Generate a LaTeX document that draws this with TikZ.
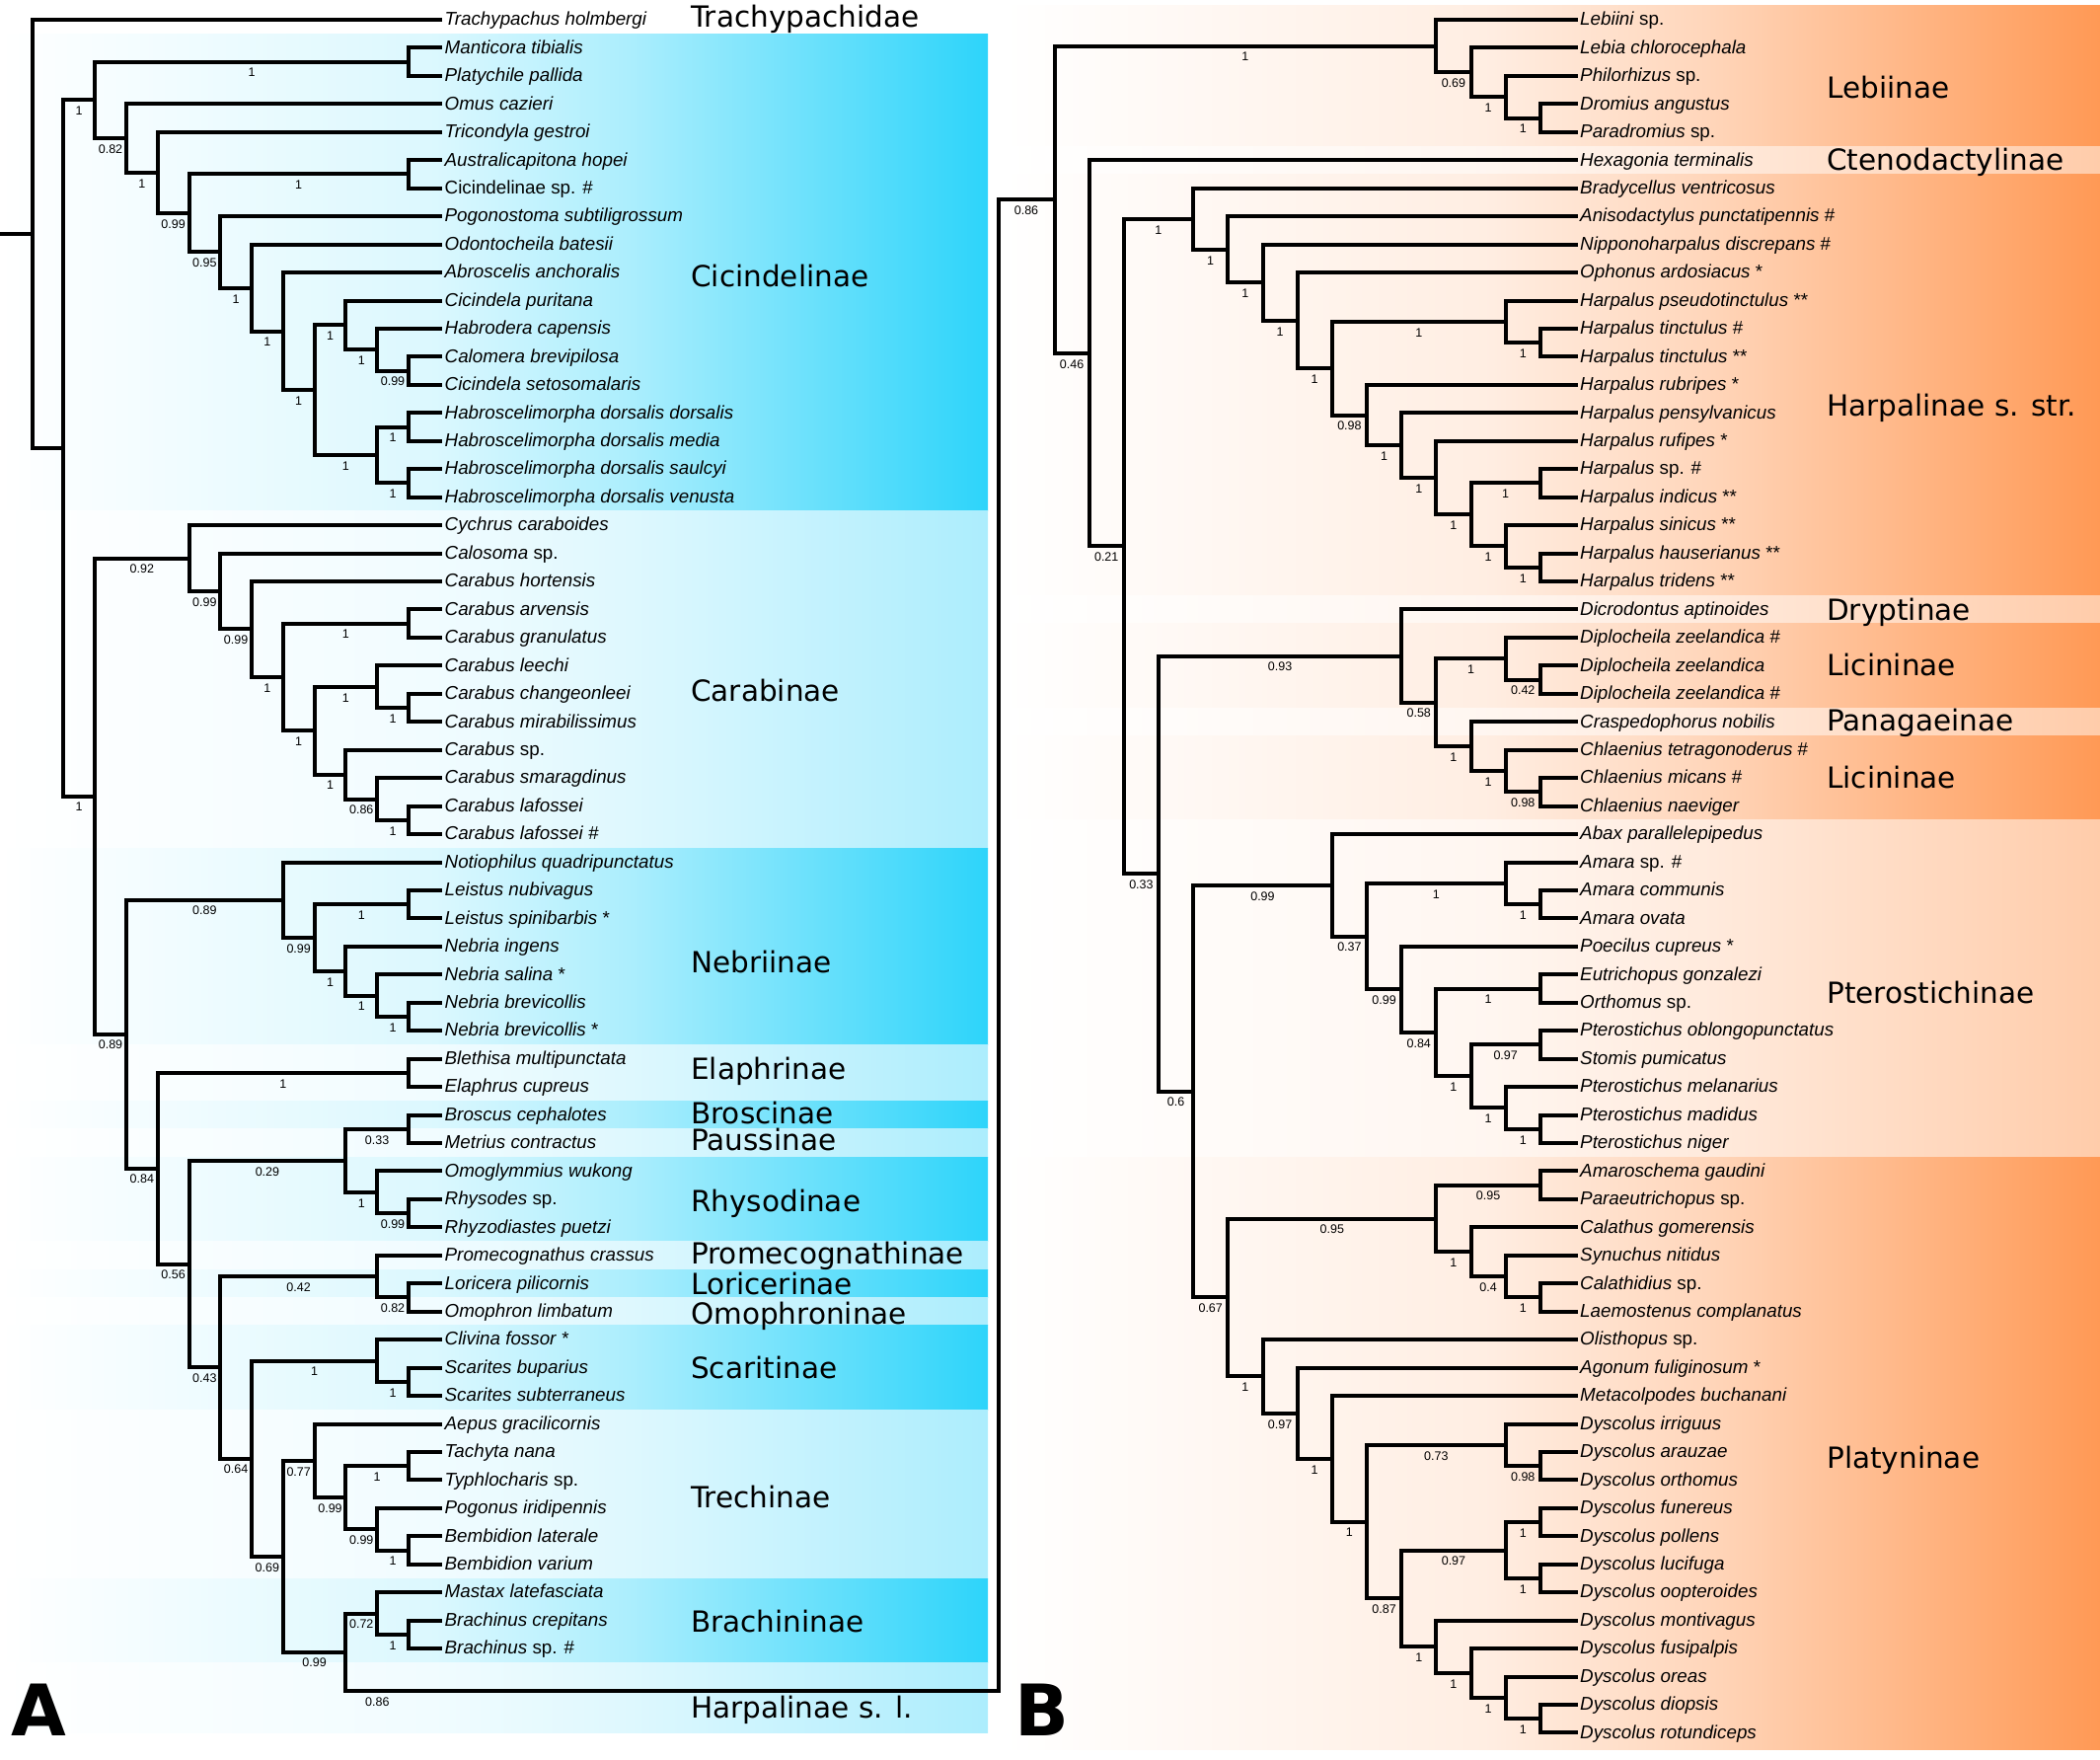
\documentclass[tikz,border=0pt]{standalone}
\usepackage{fontspec}
\setmainfont{Liberation Sans}
\newfontfamily\cladefont{DejaVu Sans}
\usepackage{tikz}
\usetikzlibrary{calc}

\newcommand{\leaffont}{\fontsize{18.8}{20}\selectfont}
\newcommand{\suppfont}{\fontsize{12.5}{13}\selectfont}

\definecolor{cicstrong}{RGB}{45,212,250}
\definecolor{ciclight}{RGB}{172,237,253}
\definecolor{orgstrong}{RGB}{255,153,85}
\definecolor{orglight}{RGB}{255,204,170}

% band shadings (white on the left, full colour on the right)
\pgfdeclarehorizontalshading{cicstrongband}{100bp}{color(0bp)=(white); color(25bp)=(white); color(47bp)=(cicstrong!17!white); color(57bp)=(cicstrong!40!white); color(66.5bp)=(cicstrong!72!white); color(75bp)=(cicstrong); color(100bp)=(cicstrong)}
\pgfdeclarehorizontalshading{ciclightband}{100bp}{color(0bp)=(white); color(25bp)=(white); color(47bp)=(ciclight!17!white); color(57bp)=(ciclight!40!white); color(66.5bp)=(ciclight!72!white); color(75bp)=(ciclight); color(100bp)=(ciclight)}
\pgfdeclarehorizontalshading{orgstrongband}{100bp}{color(0bp)=(white); color(25bp)=(white); color(47bp)=(orgstrong!17!white); color(57bp)=(orgstrong!40!white); color(66.5bp)=(orgstrong!72!white); color(75bp)=(orgstrong); color(100bp)=(orgstrong)}
\pgfdeclarehorizontalshading{orglightband}{100bp}{color(0bp)=(white); color(25bp)=(white); color(47bp)=(orglight!17!white); color(57bp)=(orglight!40!white); color(66.5bp)=(orglight!72!white); color(75bp)=(orglight); color(100bp)=(orglight)}

\begin{document}
\begin{tikzpicture}[x=1pt, y=-28.45pt]
    % Define styles
    \tikzstyle{branch} = [draw, line width=4pt]
    \tikzstyle{leaf} = [anchor=west, inner sep=2.5pt, font=\leaffont, text height=13.5pt, text depth=2pt]
    \tikzstyle{supp} = [font=\suppfont, inner sep=0pt, yshift=-11pt]
    \tikzstyle{clade} = [anchor=base west, inner sep=0pt, font=\cladefont\fontsize{29.5}{30}\selectfont]
    \tikzstyle{panel} = [anchor=base west, inner sep=0pt, font=\cladefont\bfseries\fontsize{72}{72}\selectfont]

    \useasboundingbox (0,-0.703) rectangle (2128,61.934);

    % Bands of panel A
    \shade[shading=cicstrongband] (0,0.5) rectangle (1001,17.5);
    \shade[shading=ciclightband] (0,17.5) rectangle (1001,29.5);
    \shade[shading=cicstrongband] (0,29.5) rectangle (1001,36.5);
    \shade[shading=ciclightband] (0,36.5) rectangle (1001,38.5);
    \shade[shading=cicstrongband] (0,38.5) rectangle (1001,39.5);
    \shade[shading=ciclightband] (0,39.5) rectangle (1001,40.5);
    \shade[shading=cicstrongband] (0,40.5) rectangle (1001,43.5);
    \shade[shading=ciclightband] (0,43.5) rectangle (1001,44.5);
    \shade[shading=cicstrongband] (0,44.5) rectangle (1001,45.5);
    \shade[shading=ciclightband] (0,45.5) rectangle (1001,46.5);
    \shade[shading=cicstrongband] (0,46.5) rectangle (1001,49.5);
    \shade[shading=ciclightband] (0,49.5) rectangle (1001,55.5);
    \shade[shading=cicstrongband] (0,55.5) rectangle (1001,58.5);
    \shade[shading=ciclightband] (0,58.5) rectangle (1001,61.0);

    % Bands of panel B
    \shade[shading=orgstrongband] (1016,-0.5) rectangle (2128,4.5);
    \shade[shading=orglightband] (1016,4.5) rectangle (2128,5.5);
    \shade[shading=orgstrongband] (1016,5.5) rectangle (2128,20.5);
    \shade[shading=orglightband] (1016,20.5) rectangle (2128,21.5);
    \shade[shading=orgstrongband] (1016,21.5) rectangle (2128,24.5);
    \shade[shading=orglightband] (1016,24.5) rectangle (2128,25.5);
    \shade[shading=orgstrongband] (1016,25.5) rectangle (2128,28.5);
    \shade[shading=orglightband] (1016,28.5) rectangle (2128,40.5);
    \shade[shading=orgstrongband] (1016,40.5) rectangle (2128,61.6);

    % Leaves of panel A
    \node[leaf] (a0) at (448,0) {\textit{Trachypachus holmbergi}};
    \node[leaf] (a1) at (448,1) {\textit{Manticora tibialis}};
    \node[leaf] (a2) at (448,2) {\textit{Platychile pallida}};
    \node[leaf] (a3) at (448,3) {\textit{Omus cazieri}};
    \node[leaf] (a4) at (448,4) {\textit{Tricondyla gestroi}};
    \node[leaf] (a5) at (448,5) {\textit{Australicapitona hopei}};
    \node[leaf] (a6) at (448,6) {Cicindelinae sp. \#};
    \node[leaf] (a7) at (448,7) {\textit{Pogonostoma subtiligrossum}};
    \node[leaf] (a8) at (448,8) {\textit{Odontocheila batesii}};
    \node[leaf] (a9) at (448,9) {\textit{Abroscelis anchoralis}};
    \node[leaf] (a10) at (448,10) {\textit{Cicindela puritana}};
    \node[leaf] (a11) at (448,11) {\textit{Habrodera capensis}};
    \node[leaf] (a12) at (448,12) {\textit{Calomera brevipilosa}};
    \node[leaf] (a13) at (448,13) {\textit{Cicindela setosomalaris}};
    \node[leaf] (a14) at (448,14) {\textit{Habroscelimorpha dorsalis dorsalis}};
    \node[leaf] (a15) at (448,15) {\textit{Habroscelimorpha dorsalis media}};
    \node[leaf] (a16) at (448,16) {\textit{Habroscelimorpha dorsalis saulcyi}};
    \node[leaf] (a17) at (448,17) {\textit{Habroscelimorpha dorsalis venusta}};
    \node[leaf] (a18) at (448,18) {\textit{Cychrus caraboides}};
    \node[leaf] (a19) at (448,19) {\textit{Calosoma} sp.};
    \node[leaf] (a20) at (448,20) {\textit{Carabus hortensis}};
    \node[leaf] (a21) at (448,21) {\textit{Carabus arvensis}};
    \node[leaf] (a22) at (448,22) {\textit{Carabus granulatus}};
    \node[leaf] (a23) at (448,23) {\textit{Carabus leechi}};
    \node[leaf] (a24) at (448,24) {\textit{Carabus changeonleei}};
    \node[leaf] (a25) at (448,25) {\textit{Carabus mirabilissimus}};
    \node[leaf] (a26) at (448,26) {\textit{Carabus} sp.};
    \node[leaf] (a27) at (448,27) {\textit{Carabus smaragdinus}};
    \node[leaf] (a28) at (448,28) {\textit{Carabus lafossei}};
    \node[leaf] (a29) at (448,29) {\textit{Carabus lafossei} \#};
    \node[leaf] (a30) at (448,30) {\textit{Notiophilus quadripunctatus}};
    \node[leaf] (a31) at (448,31) {\textit{Leistus nubivagus}};
    \node[leaf] (a32) at (448,32) {\textit{Leistus spinibarbis} *};
    \node[leaf] (a33) at (448,33) {\textit{Nebria ingens}};
    \node[leaf] (a34) at (448,34) {\textit{Nebria salina} *};
    \node[leaf] (a35) at (448,35) {\textit{Nebria brevicollis}};
    \node[leaf] (a36) at (448,36) {\textit{Nebria brevicollis} *};
    \node[leaf] (a37) at (448,37) {\textit{Blethisa multipunctata}};
    \node[leaf] (a38) at (448,38) {\textit{Elaphrus cupreus}};
    \node[leaf] (a39) at (448,39) {\textit{Broscus cephalotes}};
    \node[leaf] (a40) at (448,40) {\textit{Metrius contractus}};
    \node[leaf] (a41) at (448,41) {\textit{Omoglymmius wukong}};
    \node[leaf] (a42) at (448,42) {\textit{Rhysodes} sp.};
    \node[leaf] (a43) at (448,43) {\textit{Rhyzodiastes puetzi}};
    \node[leaf] (a44) at (448,44) {\textit{Promecognathus crassus}};
    \node[leaf] (a45) at (448,45) {\textit{Loricera pilicornis}};
    \node[leaf] (a46) at (448,46) {\textit{Omophron limbatum}};
    \node[leaf] (a47) at (448,47) {\textit{Clivina fossor} *};
    \node[leaf] (a48) at (448,48) {\textit{Scarites buparius}};
    \node[leaf] (a49) at (448,49) {\textit{Scarites subterraneus}};
    \node[leaf] (a50) at (448,50) {\textit{Aepus gracilicornis}};
    \node[leaf] (a51) at (448,51) {\textit{Tachyta nana}};
    \node[leaf] (a52) at (448,52) {\textit{Typhlocharis} sp.};
    \node[leaf] (a53) at (448,53) {\textit{Pogonus iridipennis}};
    \node[leaf] (a54) at (448,54) {\textit{Bembidion laterale}};
    \node[leaf] (a55) at (448,55) {\textit{Bembidion varium}};
    \node[leaf] (a56) at (448,56) {\textit{Mastax latefasciata}};
    \node[leaf] (a57) at (448,57) {\textit{Brachinus crepitans}};
    \node[leaf] (a58) at (448,58) {\textit{Brachinus} sp. \#};

    % Leaves of panel B
    \node[leaf] (b0) at (1598.5,0) {\textit{Lebiini} sp.};
    \node[leaf] (b1) at (1598.5,1) {\textit{Lebia chlorocephala}};
    \node[leaf] (b2) at (1598.5,2) {\textit{Philorhizus} sp.};
    \node[leaf] (b3) at (1598.5,3) {\textit{Dromius angustus}};
    \node[leaf] (b4) at (1598.5,4) {\textit{Paradromius} sp.};
    \node[leaf] (b5) at (1598.5,5) {\textit{Hexagonia terminalis}};
    \node[leaf] (b6) at (1598.5,6) {\textit{Bradycellus ventricosus}};
    \node[leaf] (b7) at (1598.5,7) {\textit{Anisodactylus punctatipennis} \#};
    \node[leaf] (b8) at (1598.5,8) {\textit{Nipponoharpalus discrepans} \#};
    \node[leaf] (b9) at (1598.5,9) {\textit{Ophonus ardosiacus} *};
    \node[leaf] (b10) at (1598.5,10) {\textit{Harpalus pseudotinctulus} **};
    \node[leaf] (b11) at (1598.5,11) {\textit{Harpalus tinctulus} \#};
    \node[leaf] (b12) at (1598.5,12) {\textit{Harpalus tinctulus} **};
    \node[leaf] (b13) at (1598.5,13) {\textit{Harpalus rubripes} *};
    \node[leaf] (b14) at (1598.5,14) {\textit{Harpalus pensylvanicus}};
    \node[leaf] (b15) at (1598.5,15) {\textit{Harpalus rufipes} *};
    \node[leaf] (b16) at (1598.5,16) {\textit{Harpalus} sp. \#};
    \node[leaf] (b17) at (1598.5,17) {\textit{Harpalus indicus} **};
    \node[leaf] (b18) at (1598.5,18) {\textit{Harpalus sinicus} **};
    \node[leaf] (b19) at (1598.5,19) {\textit{Harpalus hauserianus} **};
    \node[leaf] (b20) at (1598.5,20) {\textit{Harpalus tridens} **};
    \node[leaf] (b21) at (1598.5,21) {\textit{Dicrodontus aptinoides}};
    \node[leaf] (b22) at (1598.5,22) {\textit{Diplocheila zeelandica} \#};
    \node[leaf] (b23) at (1598.5,23) {\textit{Diplocheila zeelandica}};
    \node[leaf] (b24) at (1598.5,24) {\textit{Diplocheila zeelandica} \#};
    \node[leaf] (b25) at (1598.5,25) {\textit{Craspedophorus nobilis}};
    \node[leaf] (b26) at (1598.5,26) {\textit{Chlaenius tetragonoderus} \#};
    \node[leaf] (b27) at (1598.5,27) {\textit{Chlaenius micans} \#};
    \node[leaf] (b28) at (1598.5,28) {\textit{Chlaenius naeviger}};
    \node[leaf] (b29) at (1598.5,29) {\textit{Abax parallelepipedus}};
    \node[leaf] (b30) at (1598.5,30) {\textit{Amara} sp. \#};
    \node[leaf] (b31) at (1598.5,31) {\textit{Amara communis}};
    \node[leaf] (b32) at (1598.5,32) {\textit{Amara ovata}};
    \node[leaf] (b33) at (1598.5,33) {\textit{Poecilus cupreus} *};
    \node[leaf] (b34) at (1598.5,34) {\textit{Eutrichopus gonzalezi}};
    \node[leaf] (b35) at (1598.5,35) {\textit{Orthomus} sp.};
    \node[leaf] (b36) at (1598.5,36) {\textit{Pterostichus oblongopunctatus}};
    \node[leaf] (b37) at (1598.5,37) {\textit{Stomis pumicatus}};
    \node[leaf] (b38) at (1598.5,38) {\textit{Pterostichus melanarius}};
    \node[leaf] (b39) at (1598.5,39) {\textit{Pterostichus madidus}};
    \node[leaf] (b40) at (1598.5,40) {\textit{Pterostichus niger}};
    \node[leaf] (b41) at (1598.5,41) {\textit{Amaroschema gaudini}};
    \node[leaf] (b42) at (1598.5,42) {\textit{Paraeutrichopus} sp.};
    \node[leaf] (b43) at (1598.5,43) {\textit{Calathus gomerensis}};
    \node[leaf] (b44) at (1598.5,44) {\textit{Synuchus nitidus}};
    \node[leaf] (b45) at (1598.5,45) {\textit{Calathidius} sp.};
    \node[leaf] (b46) at (1598.5,46) {\textit{Laemostenus complanatus}};
    \node[leaf] (b47) at (1598.5,47) {\textit{Olisthopus} sp.};
    \node[leaf] (b48) at (1598.5,48) {\textit{Agonum fuliginosum} *};
    \node[leaf] (b49) at (1598.5,49) {\textit{Metacolpodes buchanani}};
    \node[leaf] (b50) at (1598.5,50) {\textit{Dyscolus irriguus}};
    \node[leaf] (b51) at (1598.5,51) {\textit{Dyscolus arauzae}};
    \node[leaf] (b52) at (1598.5,52) {\textit{Dyscolus orthomus}};
    \node[leaf] (b53) at (1598.5,53) {\textit{Dyscolus funereus}};
    \node[leaf] (b54) at (1598.5,54) {\textit{Dyscolus pollens}};
    \node[leaf] (b55) at (1598.5,55) {\textit{Dyscolus lucifuga}};
    \node[leaf] (b56) at (1598.5,56) {\textit{Dyscolus oopteroides}};
    \node[leaf] (b57) at (1598.5,57) {\textit{Dyscolus montivagus}};
    \node[leaf] (b58) at (1598.5,58) {\textit{Dyscolus fusipalpis}};
    \node[leaf] (b59) at (1598.5,59) {\textit{Dyscolus oreas}};
    \node[leaf] (b60) at (1598.5,60) {\textit{Dyscolus diopsis}};
    \node[leaf] (b61) at (1598.5,61) {\textit{Dyscolus rotundiceps}};

    % Internal nodes of panel A
    \coordinate (aS) at (0,7.63);
    \coordinate (aR) at (32.6,7.63);
    \coordinate (aN) at (64.3,15.26);
    \coordinate (aCic) at (96.1,2.86);
    \coordinate (aMP) at (413.9,1.5);
    \coordinate (aC10) at (127.9,4.22);
    \coordinate (aC9) at (159.7,5.44);
    \coordinate (aC8) at (191.5,6.89);
    \coordinate (aAC) at (413.9,5.5);
    \coordinate (aC7) at (223.2,8.27);
    \coordinate (aC6) at (255.0,9.55);
    \coordinate (aC5) at (286.8,11.09);
    \coordinate (aC4) at (318.6,13.19);
    \coordinate (aC3) at (350.4,10.875);
    \coordinate (aC2) at (382.1,11.75);
    \coordinate (aCal) at (413.9,12.5);
    \coordinate (aHab) at (382.1,15.5);
    \coordinate (aH1) at (413.9,14.5);
    \coordinate (aH2) at (413.9,16.5);
    \coordinate (aK) at (96.1,27.65);
    \coordinate (aCar) at (191.5,19.18);
    \coordinate (aK7) at (223.2,20.35);
    \coordinate (aK6) at (255.0,21.70);
    \coordinate (aK5) at (286.8,23.41);
    \coordinate (aAG) at (413.9,21.5);
    \coordinate (aK4) at (318.6,25.31);
    \coordinate (aK2a) at (382.1,23.75);
    \coordinate (aCM) at (413.9,24.5);
    \coordinate (aK3) at (350.4,26.875);
    \coordinate (aK2b) at (382.1,27.75);
    \coordinate (aLF) at (413.9,28.5);
    \coordinate (aNE) at (127.9,36.12);
    \coordinate (aNeb) at (286.8,31.34);
    \coordinate (aN4) at (318.6,32.69);
    \coordinate (aLe) at (413.9,31.5);
    \coordinate (aN3) at (350.4,33.875);
    \coordinate (aN2) at (382.1,34.75);
    \coordinate (aNb) at (413.9,35.5);
    \coordinate (aE9) at (159.7,40.90);
    \coordinate (aEl) at (413.9,37.5);
    \coordinate (aE8) at (191.5,44.31);
    \coordinate (aBR) at (350.4,40.625);
    \coordinate (aBM) at (413.9,39.5);
    \coordinate (aRh) at (382.1,41.75);
    \coordinate (aRp) at (413.9,42.5);
    \coordinate (aE7) at (223.2,47.99);
    \coordinate (aPL) at (382.1,44.75);
    \coordinate (aLO) at (413.9,45.5);
    \coordinate (aE6) at (255.0,51.23);
    \coordinate (aSc) at (382.1,47.75);
    \coordinate (aSS) at (413.9,48.5);
    \coordinate (aE5) at (286.8,54.72);
    \coordinate (aTr) at (318.6,51.31);
    \coordinate (aT3) at (350.4,52.625);
    \coordinate (aTT) at (413.9,51.5);
    \coordinate (aT2) at (382.1,53.75);
    \coordinate (aBB) at (413.9,54.5);
    \coordinate (aE3) at (350.4,58.125);
    \coordinate (aBra) at (382.1,56.75);
    \coordinate (aBc) at (413.9,57.5);
    \coordinate (aHsl) at (1011.5,59.5);

    % Internal nodes of panel B
    \coordinate (bR) at (1068.5,6.41);
    \coordinate (bLeb) at (1455.3,0.9375);
    \coordinate (bL3) at (1490.5,1.875);
    \coordinate (bL2) at (1525.7,2.75);
    \coordinate (bDP) at (1560.8,3.5);
    \coordinate (bX) at (1103.6,11.875);
    \coordinate (bY) at (1138.8,18.75);
    \coordinate (bHs) at (1209.1,7.09);
    \coordinate (bH10) at (1244.3,8.18);
    \coordinate (bH9) at (1279.5,9.35);
    \coordinate (bH8) at (1314.6,10.71);
    \coordinate (bH7) at (1349.8,12.41);
    \coordinate (bPT) at (1525.7,10.75);
    \coordinate (bTT) at (1560.8,11.5);
    \coordinate (bH6) at (1385.0,14.08);
    \coordinate (bH5) at (1420.2,15.16);
    \coordinate (bH4) at (1455.3,16.31);
    \coordinate (bH3) at (1490.5,17.625);
    \coordinate (bSI) at (1560.8,16.5);
    \coordinate (bH2) at (1525.7,18.75);
    \coordinate (bHT) at (1560.8,19.5);
    \coordinate (bZ) at (1174.0,30.41);
    \coordinate (bDL) at (1420.2,22.66);
    \coordinate (bD4) at (1455.3,24.31);
    \coordinate (bDz) at (1525.7,22.75);
    \coordinate (bDZ1) at (1560.8,23.5);
    \coordinate (bD3) at (1490.5,25.875);
    \coordinate (bCh) at (1525.7,26.75);
    \coordinate (bCm) at (1560.8,27.5);
    \coordinate (bP) at (1209.1,38.16);
    \coordinate (bPt) at (1349.8,30.82);
    \coordinate (bP6) at (1385.0,32.64);
    \coordinate (bAm) at (1525.7,30.75);
    \coordinate (bAo) at (1560.8,31.5);
    \coordinate (bP5) at (1420.2,34.53);
    \coordinate (bP4) at (1455.3,36.06);
    \coordinate (bEO) at (1560.8,34.5);
    \coordinate (bP3) at (1490.5,37.625);
    \coordinate (bPS) at (1560.8,36.5);
    \coordinate (bP2) at (1525.7,38.75);
    \coordinate (bPm) at (1560.8,39.5);
    \coordinate (bPl) at (1244.3,45.50);
    \coordinate (bC4) at (1455.3,42.69);
    \coordinate (bAP) at (1560.8,41.5);
    \coordinate (bC3) at (1490.5,43.875);
    \coordinate (bC2) at (1525.7,44.75);
    \coordinate (bCL) at (1560.8,45.5);
    \coordinate (bO9) at (1279.5,48.31);
    \coordinate (bO8) at (1314.6,49.62);
    \coordinate (bO7) at (1349.8,51.24);
    \coordinate (bO6) at (1385.0,53.48);
    \coordinate (bDa) at (1525.7,50.75);
    \coordinate (bAO) at (1560.8,51.5);
    \coordinate (bO5) at (1420.2,56.22);
    \coordinate (bF2) at (1525.7,54.5);
    \coordinate (bFP) at (1560.8,53.5);
    \coordinate (bLO) at (1560.8,55.5);
    \coordinate (bO4) at (1455.3,57.94);
    \coordinate (bO3) at (1490.5,58.875);
    \coordinate (bO2) at (1525.7,59.75);
    \coordinate (bDR) at (1560.8,60.5);

    % Branches of panel A
    \draw[branch] (aS) -- (aR);
    \draw[branch] (a0) -| (aR) |- (aN);
    \draw[branch] (aCic) -| node[supp,pos=0.25]{1} (aN) |- node[supp,pos=0.75]{1} (aK);
    \draw[branch] (aMP) -| node[supp,pos=0.25]{1} (aCic) |- node[supp,pos=0.75]{0.82} (aC10);
    \draw[branch] (a1) -| (aMP) |- (a2);
    \draw[branch] (a3) -| (aC10) |- node[supp,pos=0.75]{1} (aC9);
    \draw[branch] (a4) -| (aC9) |- node[supp,pos=0.75]{0.99} (aC8);
    \draw[branch] (aAC) -| node[supp,pos=0.25]{1} (aC8) |- node[supp,pos=0.75]{0.95} (aC7);
    \draw[branch] (a5) -| (aAC) |- (a6);
    \draw[branch] (a7) -| (aC7) |- node[supp,pos=0.75]{1} (aC6);
    \draw[branch] (a8) -| (aC6) |- node[supp,pos=0.75]{1} (aC5);
    \draw[branch] (a9) -| (aC5) |- node[supp,pos=0.75]{1} (aC4);
    \draw[branch] (aC3) -| node[supp,pos=0.25]{1} (aC4) |- node[supp,pos=0.75]{1} (aHab);
    \draw[branch] (a10) -| (aC3) |- node[supp,pos=0.75]{1} (aC2);
    \draw[branch] (a11) -| (aC2) |- node[supp,pos=0.75]{0.99} (aCal);
    \draw[branch] (a12) -| (aCal) |- (a13);
    \draw[branch] (aH1) -| node[supp,pos=0.25]{1} (aHab) |- node[supp,pos=0.75]{1} (aH2);
    \draw[branch] (a14) -| (aH1) |- (a15);
    \draw[branch] (a16) -| (aH2) |- (a17);
    \draw[branch] (aCar) -| node[supp,pos=0.25]{0.92} (aK) |- node[supp,pos=0.75]{0.89} (aNE);
    \draw[branch] (a18) -| (aCar) |- node[supp,pos=0.75]{0.99} (aK7);
    \draw[branch] (a19) -| (aK7) |- node[supp,pos=0.75]{0.99} (aK6);
    \draw[branch] (a20) -| (aK6) |- node[supp,pos=0.75]{1} (aK5);
    \draw[branch] (aAG) -| node[supp,pos=0.25]{1} (aK5) |- node[supp,pos=0.75]{1} (aK4);
    \draw[branch] (a21) -| (aAG) |- (a22);
    \draw[branch] (aK2a) -| node[supp,pos=0.25]{1} (aK4) |- node[supp,pos=0.75]{1} (aK3);
    \draw[branch] (a23) -| (aK2a) |- node[supp,pos=0.75]{1} (aCM);
    \draw[branch] (a24) -| (aCM) |- (a25);
    \draw[branch] (a26) -| (aK3) |- node[supp,pos=0.75]{0.86} (aK2b);
    \draw[branch] (a27) -| (aK2b) |- node[supp,pos=0.75]{1} (aLF);
    \draw[branch] (a28) -| (aLF) |- (a29);
    \draw[branch] (aNeb) -| node[supp,pos=0.25]{0.89} (aNE) |- node[supp,pos=0.75]{0.84} (aE9);
    \draw[branch] (a30) -| (aNeb) |- node[supp,pos=0.75]{0.99} (aN4);
    \draw[branch] (aLe) -| node[supp,pos=0.25]{1} (aN4) |- node[supp,pos=0.75]{1} (aN3);
    \draw[branch] (a31) -| (aLe) |- (a32);
    \draw[branch] (a33) -| (aN3) |- node[supp,pos=0.75]{1} (aN2);
    \draw[branch] (a34) -| (aN2) |- node[supp,pos=0.75]{1} (aNb);
    \draw[branch] (a35) -| (aNb) |- (a36);
    \draw[branch] (aEl) -| node[supp,pos=0.25]{1} (aE9) |- node[supp,pos=0.75]{0.56} (aE8);
    \draw[branch] (a37) -| (aEl) |- (a38);
    \draw[branch] (aBR) -| node[supp,pos=0.25]{0.29} (aE8) |- node[supp,pos=0.75]{0.43} (aE7);
    \draw[branch] (aBM) -| node[supp,pos=0.25]{0.33} (aBR) |- node[supp,pos=0.75]{1} (aRh);
    \draw[branch] (a39) -| (aBM) |- (a40);
    \draw[branch] (a41) -| (aRh) |- node[supp,pos=0.75]{0.99} (aRp);
    \draw[branch] (a42) -| (aRp) |- (a43);
    \draw[branch] (aPL) -| node[supp,pos=0.25]{0.42} (aE7) |- node[supp,pos=0.75]{0.64} (aE6);
    \draw[branch] (a44) -| (aPL) |- node[supp,pos=0.75]{0.82} (aLO);
    \draw[branch] (a45) -| (aLO) |- (a46);
    \draw[branch] (aSc) -| node[supp,pos=0.25]{1} (aE6) |- node[supp,pos=0.75]{0.69} (aE5);
    \draw[branch] (a47) -| (aSc) |- node[supp,pos=0.75]{1} (aSS);
    \draw[branch] (a48) -| (aSS) |- (a49);
    \draw[branch] (aTr) -| node[supp,pos=0.25]{0.77} (aE5) |- node[supp,pos=0.75]{0.99} (aE3);
    \draw[branch] (a50) -| (aTr) |- node[supp,pos=0.75]{0.99} (aT3);
    \draw[branch] (aTT) -| node[supp,pos=0.25]{1} (aT3) |- node[supp,pos=0.75]{0.99} (aT2);
    \draw[branch] (a51) -| (aTT) |- (a52);
    \draw[branch] (a53) -| (aT2) |- node[supp,pos=0.75]{1} (aBB);
    \draw[branch] (a54) -| (aBB) |- (a55);
    \draw[branch] (aBra) -| node[supp,pos=0.25]{0.72} (aE3) |- (aHsl) |- node[supp,pos=0.75]{0.86} (bR);
    \draw[branch] (a56) -| (aBra) |- node[supp,pos=0.75]{1} (aBc);
    \draw[branch] (a57) -| (aBc) |- (a58);
    \node[supp] (lHsl) at ($(aE3 |- aHsl)+(32,0)$) {0.86};

    % Branches of panel B
    \draw[branch] (bLeb) -| node[supp,pos=0.25]{1} (bR) |- node[supp,pos=0.75]{0.46} (bX);
    \draw[branch] (b0) -| (bLeb) |- node[supp,pos=0.75]{0.69} (bL3);
    \draw[branch] (b1) -| (bL3) |- node[supp,pos=0.75]{1} (bL2);
    \draw[branch] (b2) -| (bL2) |- node[supp,pos=0.75]{1} (bDP);
    \draw[branch] (b3) -| (bDP) |- (b4);
    \draw[branch] (b5) -| (bX) |- node[supp,pos=0.75]{0.21} (bY);
    \draw[branch] (bHs) -| node[supp,pos=0.25]{1} (bY) |- node[supp,pos=0.75]{0.33} (bZ);
    \draw[branch] (b6) -| (bHs) |- node[supp,pos=0.75]{1} (bH10);
    \draw[branch] (b7) -| (bH10) |- node[supp,pos=0.75]{1} (bH9);
    \draw[branch] (b8) -| (bH9) |- node[supp,pos=0.75]{1} (bH8);
    \draw[branch] (b9) -| (bH8) |- node[supp,pos=0.75]{1} (bH7);
    \draw[branch] (bPT) -| node[supp,pos=0.25]{1} (bH7) |- node[supp,pos=0.75]{0.98} (bH6);
    \draw[branch] (b10) -| (bPT) |- node[supp,pos=0.75]{1} (bTT);
    \draw[branch] (b11) -| (bTT) |- (b12);
    \draw[branch] (b13) -| (bH6) |- node[supp,pos=0.75]{1} (bH5);
    \draw[branch] (b14) -| (bH5) |- node[supp,pos=0.75]{1} (bH4);
    \draw[branch] (b15) -| (bH4) |- node[supp,pos=0.75]{1} (bH3);
    \draw[branch] (bSI) -| node[supp,pos=0.25]{1} (bH3) |- node[supp,pos=0.75]{1} (bH2);
    \draw[branch] (b16) -| (bSI) |- (b17);
    \draw[branch] (b18) -| (bH2) |- node[supp,pos=0.75]{1} (bHT);
    \draw[branch] (b19) -| (bHT) |- (b20);
    \draw[branch] (bDL) -| node[supp,pos=0.25]{0.93} (bZ) |- node[supp,pos=0.75]{0.6} (bP);
    \draw[branch] (b21) -| (bDL) |- node[supp,pos=0.75]{0.58} (bD4);
    \draw[branch] (bDz) -| node[supp,pos=0.25]{1} (bD4) |- node[supp,pos=0.75]{1} (bD3);
    \draw[branch] (b22) -| (bDz) |- node[supp,pos=0.75]{0.42} (bDZ1);
    \draw[branch] (b23) -| (bDZ1) |- (b24);
    \draw[branch] (b25) -| (bD3) |- node[supp,pos=0.75]{1} (bCh);
    \draw[branch] (b26) -| (bCh) |- node[supp,pos=0.75]{0.98} (bCm);
    \draw[branch] (b27) -| (bCm) |- (b28);
    \draw[branch] (bPt) -| node[supp,pos=0.25]{0.99} (bP) |- node[supp,pos=0.75]{0.67} (bPl);
    \draw[branch] (b29) -| (bPt) |- node[supp,pos=0.75]{0.37} (bP6);
    \draw[branch] (bAm) -| node[supp,pos=0.25]{1} (bP6) |- node[supp,pos=0.75]{0.99} (bP5);
    \draw[branch] (b30) -| (bAm) |- node[supp,pos=0.75]{1} (bAo);
    \draw[branch] (b31) -| (bAo) |- (b32);
    \draw[branch] (b33) -| (bP5) |- node[supp,pos=0.75]{0.84} (bP4);
    \draw[branch] (bEO) -| node[supp,pos=0.25]{1} (bP4) |- node[supp,pos=0.75]{1} (bP3);
    \draw[branch] (b34) -| (bEO) |- (b35);
    \draw[branch] (bPS) -| node[supp,pos=0.25]{0.97} (bP3) |- node[supp,pos=0.75]{1} (bP2);
    \draw[branch] (b36) -| (bPS) |- (b37);
    \draw[branch] (b38) -| (bP2) |- node[supp,pos=0.75]{1} (bPm);
    \draw[branch] (b39) -| (bPm) |- (b40);
    \draw[branch] (bC4) -| node[supp,pos=0.25]{0.95} (bPl) |- node[supp,pos=0.75]{1} (bO9);
    \draw[branch] (bAP) -| node[supp,pos=0.25]{0.95} (bC4) |- node[supp,pos=0.75]{1} (bC3);
    \draw[branch] (b41) -| (bAP) |- (b42);
    \draw[branch] (b43) -| (bC3) |- node[supp,pos=0.75]{0.4} (bC2);
    \draw[branch] (b44) -| (bC2) |- node[supp,pos=0.75]{1} (bCL);
    \draw[branch] (b45) -| (bCL) |- (b46);
    \draw[branch] (b47) -| (bO9) |- node[supp,pos=0.75]{0.97} (bO8);
    \draw[branch] (b48) -| (bO8) |- node[supp,pos=0.75]{1} (bO7);
    \draw[branch] (b49) -| (bO7) |- node[supp,pos=0.75]{1} (bO6);
    \draw[branch] (bDa) -| node[supp,pos=0.25]{0.73} (bO6) |- node[supp,pos=0.75]{0.87} (bO5);
    \draw[branch] (b50) -| (bDa) |- node[supp,pos=0.75]{0.98} (bAO);
    \draw[branch] (b51) -| (bAO) |- (b52);
    \draw[branch] (bF2) -| node[supp,pos=0.25]{0.97} (bO5) |- node[supp,pos=0.75]{1} (bO4);
    \draw[branch] (bFP) -| node[supp,pos=0.25]{1} (bF2) |- node[supp,pos=0.75]{1} (bLO);
    \draw[branch] (b53) -| (bFP) |- (b54);
    \draw[branch] (b55) -| (bLO) |- (b56);
    \draw[branch] (b57) -| (bO4) |- node[supp,pos=0.75]{1} (bO3);
    \draw[branch] (b58) -| (bO3) |- node[supp,pos=0.75]{1} (bO2);
    \draw[branch] (b59) -| (bO2) |- node[supp,pos=0.75]{1} (bDR);
    \draw[branch] (b60) -| (bDR) |- (b61);

    % Clade labels of panel A
    \node[clade] (cTra) at (700,0.257) {Trachypachidae};
    \node[clade] (cCic) at (700,9.51) {Cicindelinae};
    \node[clade] (cCar) at (700,24.28) {Carabinae};
    \node[clade] (cNeb) at (700,33.95) {Nebriinae};
    \node[clade] (cEla) at (700,37.73) {Elaphrinae};
    \node[clade] (cBro) at (700,39.31) {Broscinae};
    \node[clade] (cPau) at (700,40.28) {Paussinae};
    \node[clade] (cRhy) at (700,42.45) {Rhysodinae};
    \node[clade] (cPro) at (700,44.32) {Promecognathinae};
    \node[clade] (cLor) at (700,45.40) {Loricerinae};
    \node[clade] (cOmo) at (700,46.46) {Omophroninae};
    \node[clade] (cSca) at (700,48.39) {Scaritinae};
    \node[clade] (cTre) at (700,52.98) {Trechinae};
    \node[clade] (cBra) at (700,57.41) {Brachininae};
    \node[clade] (cHsl) at (700,60.48) {Harpalinae s. l.};

    % Clade labels of panel B
    \node[clade] (cLeb) at (1851,2.79) {Lebiinae};
    \node[clade] (cCte) at (1851,5.37) {Ctenodactylinae};
    \node[clade] (cHss) at (1851,14.12) {Harpalinae s. str.};
    \node[clade] (cDry) at (1851,21.38) {Dryptinae};
    \node[clade] (cLi1) at (1851,23.37) {Licininae};
    \node[clade] (cPan) at (1851,25.34) {Panagaeinae};
    \node[clade] (cLi2) at (1851,27.36) {Licininae};
    \node[clade] (cPte) at (1851,35.03) {Pterostichinae};
    \node[clade] (cPla) at (1851,51.59) {Platyninae};

    % Panel letters
    \node[panel] (pA) at (11,61.12) {A};
    \node[panel] (pB) at (1028,61.12) {B};
\end{tikzpicture}
\end{document}
